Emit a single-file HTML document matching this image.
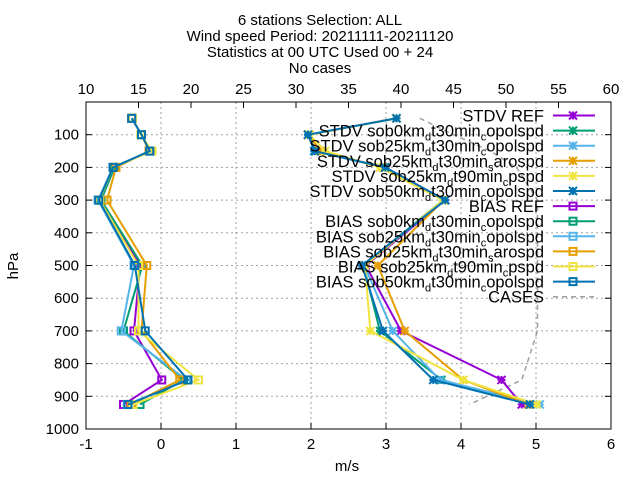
<!DOCTYPE html>
<html><head><meta charset="utf-8"><style>
html,body{margin:0;padding:0;background:#fff;}
svg{display:block;font-family:"Liberation Sans",sans-serif;}
</style></head><body>
<svg id="chart" width="640" height="480" viewBox="0 0 640 480" xmlns="http://www.w3.org/2000/svg">
<g font-size="15" text-anchor="middle" fill="#000">
<text x="320" y="25">6 stations Selection: ALL</text>
<text x="320" y="41">Wind speed  Period: 20211111-20211120</text>
<text x="320" y="57">Statistics at 00 UTC  Used 00 + 24</text>
<text x="320" y="73">No cases</text>
</g>
<g id="grid"></g>
<g id="axes"></g>
<g id="series"></g>
<g id="legend"></g>
<text x="18" y="266" font-size="15" text-anchor="middle" transform="rotate(-90 18 266)">hPa</text>
<text x="347" y="471" font-size="15" text-anchor="middle">m/s</text>
</svg>
<script>
const levels=[50,100,150,200,300,500,700,850,925];
const xTicks=[-1,0,1,2,3,4,5,6];
const topTicks=[10,15,20,25,30,35,40,45,50,55,60];
const yTicks=[100,200,300,400,500,600,700,800,900,1000];
const seriesNames=["REF","sob0km_d t30min_c opolspd","sob25km_d t30min_c opolspd","sob25km_d t30min_s arospd","sob25km_d t90min_c pspd","sob50km_d t30min_c opolspd"];
const colors=["#9400d3","#009e73","#56b4e9","#e69f00","#f0e442","#0072b2"];
const stdvRef=[3.14,1.96,2.05,2.99,3.79,2.73,3.2,4.54,4.81];
const stdv0=[3.14,1.96,2.06,2.98,3.76,2.7,2.92,3.74,4.92];
const stdv25=[3.14,1.97,2.04,2.97,3.78,2.71,3.09,3.72,5.05];
const stdv25s=[3.14,1.97,2.12,2.96,3.77,2.89,3.25,4.03,4.9];
const stdv25c=[3.14,1.98,2.19,2.92,3.76,2.72,2.79,4.03,5.01];
const stdv50=[3.14,1.96,2.05,2.99,3.79,2.68,2.96,3.63,4.92];
const biasRef=[-0.39,-0.26,-0.15,-0.62,-0.8,-0.28,-0.36,0.01,-0.5];
const bias0=[-0.39,-0.26,-0.15,-0.62,-0.8,-0.25,-0.5,0.3,-0.28];
const bias25=[-0.39,-0.26,-0.15,-0.64,-0.84,-0.36,-0.53,0.34,-0.45];
const bias25s=[-0.39,-0.26,-0.16,-0.6,-0.72,-0.19,-0.26,0.25,-0.4];
const bias25c=[-0.38,-0.27,-0.12,-0.64,-0.82,-0.3,-0.3,0.5,-0.37];
const bias50=[-0.39,-0.26,-0.15,-0.64,-0.83,-0.35,-0.21,0.36,-0.44];
const cases=[41.8,45,48.5,51,53,53,53,51.5,46.5];
const stdvAll=[stdvRef,stdv0,stdv25,stdv25s,stdv25c,stdv50];
const biasAll=[biasRef,bias0,bias25,bias25s,bias25c,bias50];

const L=86,R=611,T=102,B=429;
const xs=v=>L+(v+1)*(R-L)/7;
const xt=c=>L+(c-10)*(R-L)/50;
const ys=p=>T+p*(B-T)/1000;
const NS="http://www.w3.org/2000/svg";
function mk(tag,attrs,parent){const e=document.createElementNS(NS,tag);for(const k in attrs)e.setAttribute(k,attrs[k]);parent.appendChild(e);return e;}
const grid=document.getElementById('grid'),axes=document.getElementById('axes'),ser=document.getElementById('series'),leg=document.getElementById('legend');
xTicks.forEach(t=>{const x=xs(t);
 if(t>-1&&t<6){const g=mk('line',{x1:x,x2:x,y1:T,y2:B,stroke:'#a0a0a0','stroke-dasharray':'2,3','stroke-width':1},grid);}
 const tk=mk('line',{x1:x,x2:x,y1:B,y2:B-6,stroke:'#000'},axes);
 const tx=mk('text',{x:x,y:B+20,'font-size':15,'text-anchor':'middle'},axes);tx.textContent=t;
 });
topTicks.forEach(t=>{const x=xt(t);
 const tk=mk('line',{x1:x,x2:x,y1:T,y2:T+6,stroke:'#000'},axes);
 const tx=mk('text',{x:x,y:T-8,'font-size':15,'text-anchor':'middle'},axes);tx.textContent=t;
 });
yTicks.forEach(t=>{const y=ys(t);
 if(t<1000){const g=mk('line',{x1:L,x2:R,y1:y,y2:y,stroke:'#a0a0a0','stroke-dasharray':'2,3','stroke-width':1},grid);}
 const tk=mk('line',{x1:L,x2:L+6,y1:y,y2:y,stroke:'#000'},axes);
 const tk2=mk('line',{x1:R,x2:R-6,y1:y,y2:y,stroke:'#000'},axes);
 const tx=mk('text',{x:L-7,y:y+5,'font-size':15,'text-anchor':'end'},axes);tx.textContent=t;
 });
const fr=mk('rect',{x:L,y:T,width:R-L,height:B-T,fill:'none',stroke:'#000','stroke-width':1},axes);


function star(x,y,c,p){const s=4;const g=mk('g',{stroke:c,'stroke-width':2},p);
 mk('line',{x1:x-s,y1:y-s,x2:x+s,y2:y+s},g);mk('line',{x1:x-s,y1:y+s,x2:x+s,y2:y-s},g);mk('line',{x1:x-s,y1:y,x2:x+s,y2:y},g);mk('line',{x1:x,y1:y-s,x2:x,y2:y+s},g);return g;}
function box(x,y,c,p){const r=mk('rect',{x:x-3.5,y:y-3.5,width:7,height:7,fill:'none',stroke:c,'stroke-width':2},p);return r;}
function drawLine(vals,fx,c,dash,name){const pts=vals.map((v,i)=>fx(v).toFixed(1)+','+ys(levels[i]).toFixed(1)).join(' ');
 const pl=mk('polyline',{points:pts,fill:'none',stroke:c,'stroke-width':dash?1.5:2,'stroke-dasharray':dash?'5,4':'none'},ser);
 return pl;}
drawLine(cases,xt,'#a0a0a0',true,'cases-line');
stdvAll.forEach((arr,k)=>{drawLine(arr,xs,colors[k],false,'stdv-line');
 arr.forEach((v,i)=>{const m=star(xs(v),ys(levels[i]),colors[k],ser);});});
biasAll.forEach((arr,k)=>{drawLine(arr,xs,colors[k],false,'bias-line');
 arr.forEach((v,i)=>{const m=box(xs(v),ys(levels[i]),colors[k],ser);});});

function labelFor(prefix,n){if(n==="REF")return prefix+' REF';
 const parts=n.split(' ');let html=prefix+' ';
 parts.forEach(pt=>{const m=pt.split('_');html+=m[0];if(m[1])html+='<tspan font-size="11" baseline-shift="-4">'+m[1]+'</tspan>';});return html;}
const rows=[];
seriesNames.forEach((n,k)=>rows.push({t:labelFor('STDV',n),c:colors[k],m:'star'}));
seriesNames.forEach((n,k)=>rows.push({t:labelFor('BIAS',n),c:colors[k],m:'box'}));
rows.push({t:'CASES',c:'#a0a0a0',m:'dash'});
rows.forEach((r,i)=>{const y=115.5+i*15.1;
 const g=mk('g',{},leg);
 const tx=mk('text',{x:544,y:y+6,'font-size':16.5,'text-anchor':'end'},g);tx.innerHTML=r.t;
 mk('line',{x1:553,x2:595,y1:y,y2:y,stroke:r.c,'stroke-width':r.m==='dash'?1.5:2,'stroke-dasharray':r.m==='dash'?'5,4':'none'},g);
 if(r.m==='star')star(573,y,r.c,g);else if(r.m==='box')box(573,y,r.c,g);});
</script>
</body></html>
